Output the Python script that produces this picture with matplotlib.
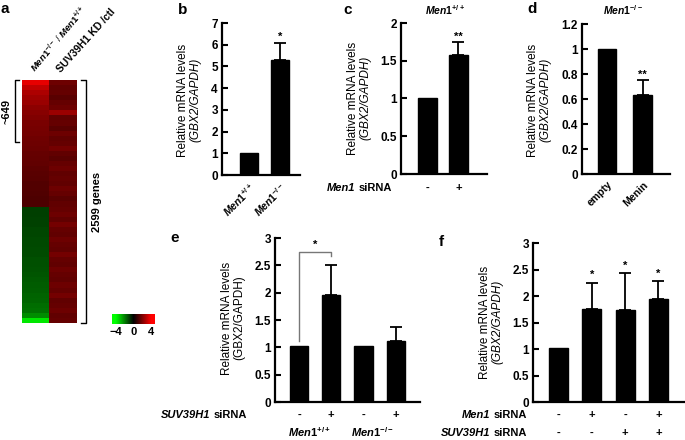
import numpy as np
import matplotlib
matplotlib.use("Agg")
import matplotlib.pyplot as plt
from matplotlib.colors import LinearSegmentedColormap, Normalize
from matplotlib.text import Annotation

plt.rcParams['font.family'] = ['Liberation Sans', 'DejaVu Sans']
plt.rcParams['mathtext.fontset'] = 'custom'
plt.rcParams['mathtext.rm'] = 'Liberation Sans:bold'
plt.rcParams['mathtext.it'] = 'Liberation Sans:italic:bold'
plt.rcParams['mathtext.bf'] = 'Liberation Sans:bold'

# heatmap (panel a): log2 ratios, rows sorted top -> bottom
heat_men1 = [3.6, 3.0, 2.7, 2.5, 2.4, 2.2, 2.1, 2.0, 1.9, 1.85, 1.8, 1.75, 1.7, 1.65,
             1.6, 1.55, 1.5, 1.45, 1.4, 1.35, 1.3, 1.3, 1.25, 1.2, 1.2,
             -1.0, -1.0, -1.05, -1.05, -1.1, -1.1, -1.15, -1.15, -1.2, -1.2, -1.25,
             -1.25, -1.3, -1.35, -1.4, -1.45, -1.5, -1.55, -1.6, -1.7, -1.8, -2.2, -3.6]
heat_suv = [1.7, 1.5, 1.6, 1.4, 1.6, 1.7, 2.4, 1.5, 1.6, 1.4, 1.7, 1.5, 1.6, 1.8, 1.5, 1.4,
            1.6, 1.7, 1.5, 1.6, 1.5, 1.7, 1.6, 1.4, 1.5, 1.6, 1.7, 1.5, 1.8, 1.6, 1.5, 1.7,
            1.6, 1.5, 1.8, 1.6, 1.5, 1.7, 1.6, 1.5, 1.7, 1.6, 1.8, 1.5, 1.6, 1.7, 1.5, 1.6]
cbar_ticks = [-4, 0, 4]

# panel b
b_vals = [1.0, 5.3]
b_errs = [0.0, 0.8]
b_stars = ['', '*']
b_labels = [r'$\mathit{Men1}^{+/+}$', r'$\mathit{Men1}^{-/-}$']
b_yticks = [0, 1, 2, 3, 4, 5, 6, 7]
# panel c
c_vals = [1.0, 1.57]
c_errs = [0.0, 0.18]
c_stars = ['', '**']
c_men1 = ['-', '+']
c_yticks = [0, 0.5, 1, 1.5, 2]
# panel d
d_vals = [1.0, 0.63]
d_errs = [0.0, 0.12]
d_stars = ['', '**']
d_labels = ['empty', 'Menin']
d_yticks = [0, 0.2, 0.4, 0.6, 0.8, 1, 1.2]
# panel e
e_vals = [1.02, 1.96, 1.02, 1.12]
e_errs = [0.0, 0.55, 0.0, 0.25]
e_suv = ['-', '+', '-', '+']
e_groups = [r'$\mathit{Men1}^{+/+}$', r'$\mathit{Men1}^{-/-}$']
e_yticks = [0, 0.5, 1, 1.5, 2, 2.5, 3]
# panel f
f_vals = [1.02, 1.75, 1.73, 1.95]
f_errs = [0.0, 0.5, 0.7, 0.33]
f_stars = ['', '*', '*', '*']
f_men1 = ['-', '+', '-', '+']
f_suv = ['-', '-', '+', '+']
f_yticks = [0, 0.5, 1, 1.5, 2, 2.5, 3]

W, H = 685, 440
fig = plt.figure(figsize=(W / 100, H / 100), dpi=100)


def fx(x):
    return x / W


def fy(y):
    return 1 - y / H


def px_axes(l, t, r, b):
    return fig.add_axes([l / W, 1 - b / H, (r - l) / W, (b - t) / H])


def fmt(v):
    return ('%g' % v)


def bar_panel(box, vals, errs, xlim, width, yticks, stars=None, star_off=0.0):
    ax = px_axes(*box)
    x = np.arange(len(vals))
    ax.bar(x, vals, width=width, color='black', edgecolor='black')
    errs = np.array(errs)
    m = errs > 0
    ax.errorbar(x[m], np.array(vals)[m], yerr=[np.zeros(m.sum()), errs[m]],
                fmt='none', ecolor='black', elinewidth=1.3, capsize=4, capthick=1.3)
    if stars:
        for i, s in enumerate(stars):
            if s:
                ax.text(i, vals[i] + errs[i] + star_off, s, ha='center', va='bottom',
                        fontsize=8, fontweight='bold')
    ax.set_xlim(*xlim)
    ax.set_ylim(0, yticks[-1])
    ax.set_yticks(yticks)
    ax.set_yticklabels([fmt(v) for v in yticks], fontsize=8.5, fontweight='bold')
    ax.spines['top'].set_visible(False)
    ax.spines['right'].set_visible(False)
    ax.spines['left'].set_linewidth(1.6)
    ax.spines['bottom'].set_linewidth(1.6)
    ax.tick_params(axis='y', direction='in', length=4, width=1.5, pad=3)
    ax.tick_params(axis='x', length=0)
    ax.set_xticks([])
    return ax


def ylabel(x1, yc, italic=True):
    fig.text(fx(x1), fy(yc), 'Relative mRNA levels', rotation=90, ha='center',
             va='center', fontsize=8.5)
    fig.text(fx(x1 + 12), fy(yc), '(GBX2/GAPDH)', rotation=90, ha='center',
             va='center', fontsize=8.5, style='italic' if italic else 'normal')


def row_label(x, y, gene):
    # "<gene in italics> siRNA", right aligned at x
    t = fig.text(fx(x), fy(y), 'siRNA', ha='right', va='center', fontsize=8,
                 fontweight='bold')
    a = Annotation(gene, xy=(0, 0.5), xycoords=t, xytext=(-2.5, 0),
                   textcoords='offset points', ha='right', va='center', fontsize=8,
                   fontweight='bold', style='italic')
    fig.add_artist(a)


# ---------------- panel a: heatmap
cmap = LinearSegmentedColormap.from_list(
    'gbr', [(0, '#00ff00'), (0.083, '#00ff00'), (0.5, '#000000'),
            (0.917, '#ff0000'), (1, '#ff0000')])
norm = Normalize(-4.8, 4.8)
axh = px_axes(22, 80, 77, 323)
axh.imshow(np.column_stack([heat_men1, heat_suv]), cmap=cmap, norm=norm,
           aspect='auto', interpolation='nearest')
axh.axis('off')

fig.text(fx(37), fy(74), r'$\mathit{Men1}^{-/-}$ / $\mathit{Men1}^{+/+}$', rotation=50,
         ha='left', va='bottom', fontsize=6.8, rotation_mode='anchor')
fig.text(fx(62), fy(74), 'SUV39H1 KD /ctl', rotation=48, ha='left', va='bottom',
         fontsize=7.5, fontweight='bold', rotation_mode='anchor')

# brackets
fig.add_artist(plt.Line2D([fx(19), fx(15), fx(15), fx(19)],
                          [fy(80), fy(80), fy(142), fy(142)], color='black', lw=1))
fig.text(fx(7), fy(111), '~649', rotation=90, ha='center', va='center',
         fontsize=8, fontweight='bold')
fig.add_artist(plt.Line2D([fx(81), fx(86), fx(86), fx(81)],
                          [fy(80), fy(80), fy(323), fy(323)], color='black', lw=1))
fig.text(fx(97), fy(202), '2599 genes', rotation=90, ha='center', va='center',
         fontsize=8, fontweight='bold')

# colour scale
axc = px_axes(112, 314, 155, 324)
axc.imshow(np.linspace(-4.8, 4.8, 200)[None, :], cmap=cmap, norm=norm, aspect='auto',
           extent=[-4.8, 4.8, 0, 1])
axc.axis('off')
for v in cbar_ticks:
    fig.text(fx(133.5 + v * 18 / 4), fy(332), fmt(v).replace('-', '\u2212'),
             ha='center', va='center', fontsize=8, fontweight='bold')

# ---------------- panel b
axb = bar_panel((222, 23, 300, 175), b_vals, b_errs, (-0.87, 1.645), 0.58, b_yticks,
                b_stars, 0.05)
axb.set_xticks([0, 1])
axb.set_xticklabels(b_labels, rotation=45, ha='right', rotation_mode='anchor', fontsize=7.5)
axb.tick_params(axis='x', pad=4)
ylabel(183, 100)

# ---------------- panel c
axc2 = bar_panel((401, 23, 487, 174), c_vals, c_errs, (-0.855, 1.92), 0.61, c_yticks,
                 c_stars, 0.0)
for i, s in enumerate(c_men1):
    fig.text(fx(427.5 + 31 * i), fy(188), s, ha='center', va='center', fontsize=8,
             fontweight='bold')
row_label(392, 188, 'Men1')
fig.text(fx(445), fy(10), r'$\mathit{Men1}^{+/+}$', ha='center', va='center', fontsize=7.5)
ylabel(353, 98)

# ---------------- panel d
axd = bar_panel((582, 24, 670, 174), d_vals, d_errs, (-0.70, 1.77), 0.52, d_yticks,
                d_stars, 0.0)
axd.set_xticks([0, 1])
axd.set_xticklabels(d_labels, rotation=45, ha='right', rotation_mode='anchor',
                    fontsize=7.5, fontweight='bold')
axd.tick_params(axis='x', pad=4)
fig.text(fx(623), fy(10), r'$\mathit{Men1}^{-/-}$', ha='center', va='center', fontsize=7.5)
ylabel(533, 100)

# ---------------- panel e
axe = bar_panel((275, 238, 420, 402), e_vals, e_errs, (-0.74, 3.75), 0.56, e_yticks)
axe.plot([0, 0, 1, 1], [1.12, 2.74, 2.74, 2.67], color='#777777', lw=1)
axe.text(0.5, 2.78, '*', ha='center', va='bottom', fontsize=8, fontweight='bold')
for i, s in enumerate(e_suv):
    fig.text(fx(299 + 32.3 * i), fy(415), s, ha='center', va='center', fontsize=8,
             fontweight='bold')
row_label(247, 415, 'SUV39H1')
for i, g in enumerate(e_groups):
    fig.text(fx(309 + 63 * i), fy(432), g, ha='center', va='center', fontsize=8)
ylabel(227, 318, italic=False)

# ---------------- panel f
axf = bar_panel((533, 243, 685, 402), f_vals, f_errs, (-0.77, 3.8), 0.57, f_yticks,
                f_stars, 0.05)
for i in range(len(f_vals)):
    fig.text(fx(558.5 + 33.3 * i), fy(415), f_men1[i], ha='center', va='center',
             fontsize=8, fontweight='bold')
    fig.text(fx(558.5 + 33.3 * i), fy(433), f_suv[i], ha='center', va='center',
             fontsize=8, fontweight='bold')
row_label(527, 415, 'Men1')
row_label(527, 433, 'SUV39H1')
ylabel(485, 322)

# panel letters
for lab, x, y in [('a', 5, 9), ('b', 183, 10), ('c', 348, 10), ('d', 532, 9),
                  ('e', 175, 238), ('f', 441, 242)]:
    fig.text(fx(x), fy(y), lab, ha='center', va='center', fontsize=11, fontweight='bold')

fig.savefig('out.png', dpi=100)
